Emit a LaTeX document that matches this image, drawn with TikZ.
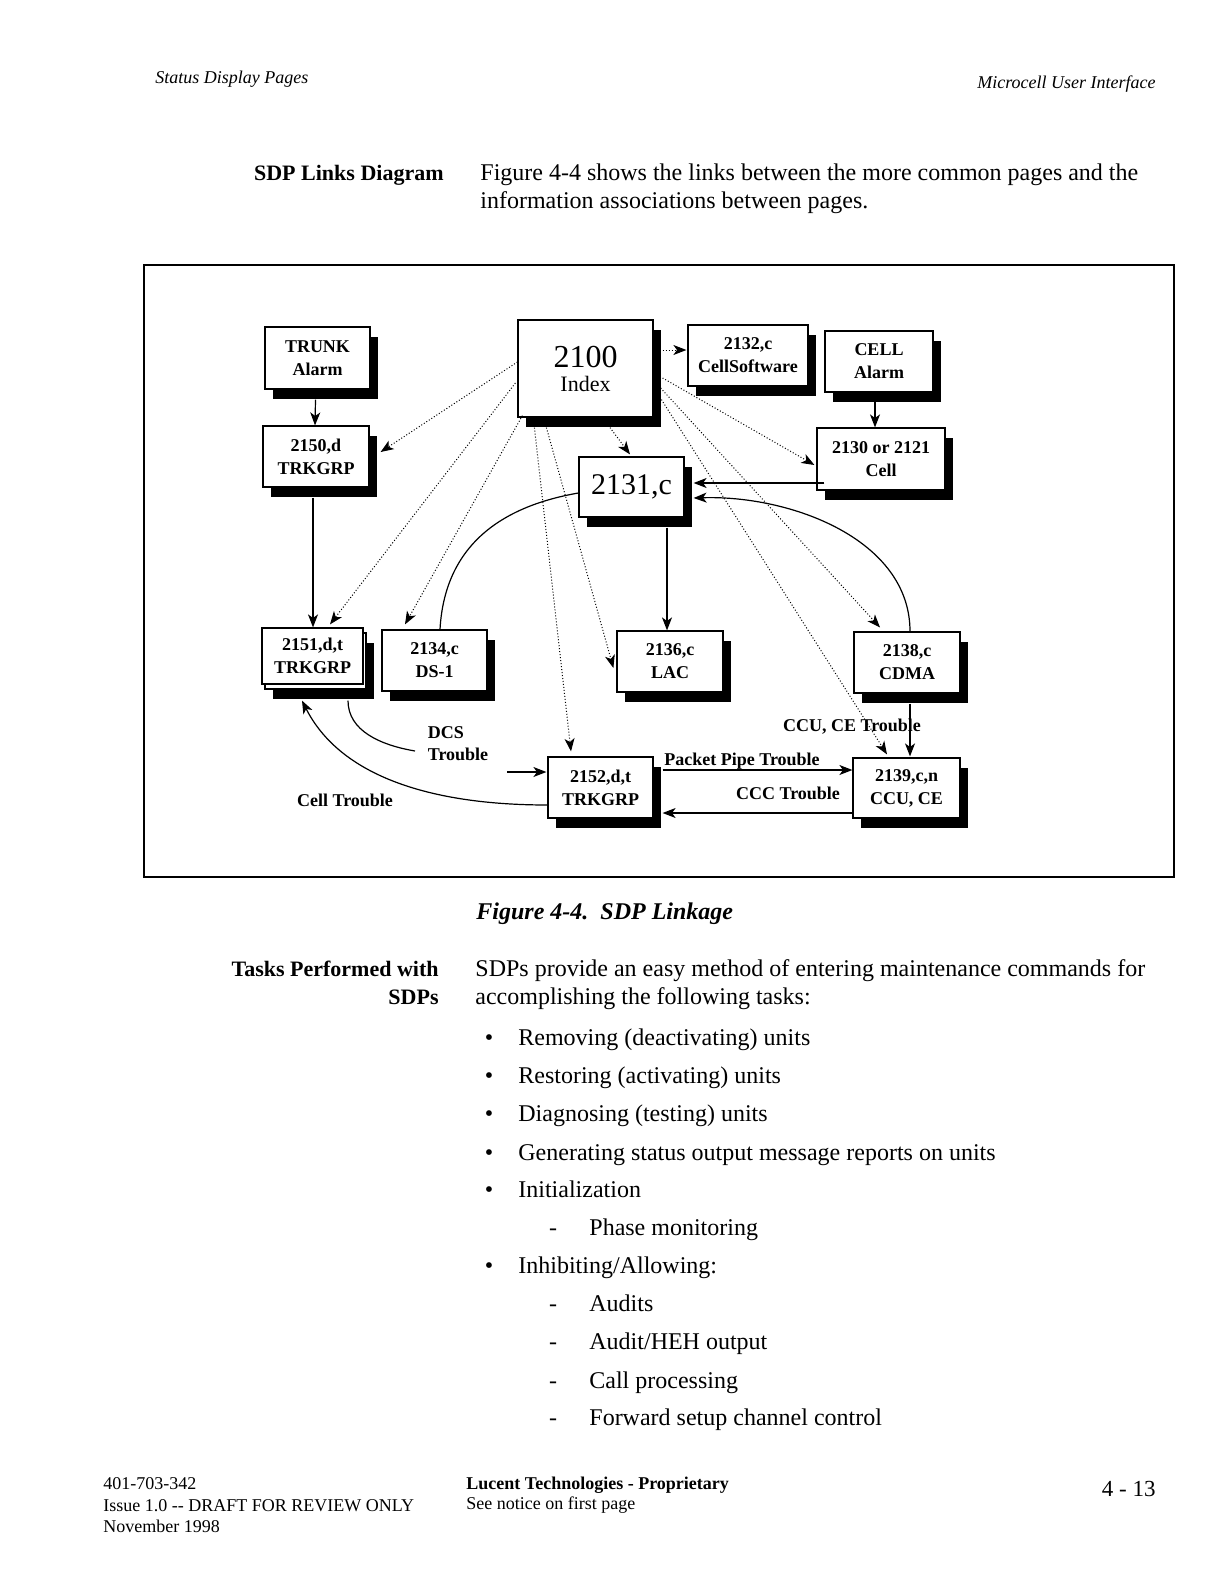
\documentclass[tikz,border=0pt]{standalone}
\usepackage{fontspec}
\setmainfont{Liberation Serif}
\usetikzlibrary{arrows.meta,shadows}
\tikzset{
  bx/.style={draw, fill=white, line width=0.6pt, inner sep=0pt, align=center,
    font=\bfseries\fontsize{9}{11.5}\selectfont,
    drop shadow={shadow xshift=4pt, shadow yshift=-5pt, fill=black, opacity=1}},
  bxplain/.style={draw, fill=white, line width=0.6pt, inner sep=0pt, align=center,
    font=\bfseries\fontsize{9}{11.5}\selectfont},
  arr/.style={line width=0.6pt, -{Stealth[length=6.5pt,width=5pt,inset=1.8pt]}},
  dotarr/.style={line width=0.5pt, densely dotted, -{Stealth[length=6.5pt,width=5pt,inset=1.8pt]}},
  ln/.style={line width=0.6pt},
  lbl/.style={font=\bfseries\fontsize{9}{11}\selectfont, inner sep=0pt, align=left},
  body/.style={font=\fontsize{12}{14}\selectfont, inner sep=0pt},
  side/.style={font=\bfseries\fontsize{11}{14}\selectfont, inner sep=0pt, anchor=base east},
  foot/.style={font=\fontsize{9}{11}\selectfont, inner sep=0pt, anchor=base west},
}
\begin{document}
\begin{tikzpicture}[x=0.5pt,y=-0.5pt]
\fill[white] (0,0) rectangle (1224,1584);
\path[use as bounding box] (0,0) rectangle (1224,1584);

% header
\node[anchor=base west, inner sep=0pt, font=\itshape\fontsize{9}{11}\selectfont] (hl) at (155,84) {Status Display Pages};
\node[anchor=base east, inner sep=0pt, font=\itshape\fontsize{9}{11}\selectfont] (hr) at (1156,89) {Microcell User Interface};

% intro
\node[side] (s1) at (444,180) {SDP Links Diagram};
\node[body, anchor=base west] (p1a) at (480,180) {Figure 4-4 shows the links between the more common pages and the};
\node[body, anchor=base west] (p1b) at (480,208) {information associations between pages.};

% frame
\draw[line width=0.7pt] (144,265) rectangle (1174,877);

% boxes
\node[bx, minimum width=52.5pt, minimum height=31pt] (trunk) at (317.5,358) {TRUNK\\Alarm};
\node[bx, minimum width=53pt, minimum height=30.5pt] (t2150) at (316,456.5) {2150,d\\TRKGRP};
\node[bx, minimum width=67.5pt, minimum height=48.5pt, font=\fontsize{11}{13}\selectfont] (n2100) at (585.5,368.5) {{\fontsize{16}{16}\selectfont 2100}\\[-1pt]Index};
\node[bx, minimum width=60pt, minimum height=30.5pt] (c2132) at (748,355.5) {2132,c\\CellSoftware};
\node[bx, minimum width=54pt, minimum height=30.5pt] (cell) at (879,361.5) {CELL\\Alarm};
\node[bx, minimum width=64pt, minimum height=31pt] (c2130) at (881,459) {2130 or 2121\\Cell};
\node[bx, minimum width=52.5pt, minimum height=30pt, font=\fontsize{15}{15}\selectfont] (c2131) at (631.5,487) {2131,c};
\node[bx, minimum width=50.5pt, minimum height=28pt] (t2151b) at (315.5,661) {};
\node[bxplain, minimum width=50.5pt, minimum height=28pt] (t2151) at (312.5,656) {2151,d,t\\TRKGRP};
\node[bx, minimum width=52.5pt, minimum height=30.5pt] (ds1) at (434.5,660.5) {2134,c\\DS-1};
\node[bx, minimum width=53pt, minimum height=30.5pt] (lac) at (670,661.5) {2136,c\\LAC};
\node[bx, minimum width=53pt, minimum height=30.5pt] (cdma) at (907,662.5) {2138,c\\CDMA};
\node[bx, minimum width=52.5pt, minimum height=30.5pt] (t2152) at (600.5,787.5) {2152,d,t\\TRKGRP};
\node[bx, minimum width=53.5pt, minimum height=30pt] (ccu) at (906.5,788) {2139,c,n\\CCU, CE};

% solid connectors
\draw[arr] ([shift={(-2,10)}]trunk.south) -- ([shift={(-1,0)}]t2150.north);
\draw[arr] ([shift={(-3,10)}]t2150.south) -- ([shift={(0.5,0)}]t2151.north);
\draw[arr] ([shift={(-4,9)}]cell.south) -- ([shift={(-6,0)}]c2130.north);
\draw[arr] ([shift={(8,24)}]c2130.west) -- ([shift={(9,-4)}]c2131.east);
\draw[arr] ([shift={(3,0)}]cdma.north) .. controls +(0,-92) and +(97,-3) .. ([shift={(9,11)}]c2131.east);
\draw[arr] ([shift={(3,10)}]cdma.south) -- ([shift={(3.5,-1)}]ccu.north);
\draw[arr] ([shift={(35.5,10)}]c2131.south) -- ([shift={(-3,0)}]lac.north);
\draw[ln] ([shift={(5.5,0)}]ds1.north) .. controls +(5,-90) and +(-69,12) .. ([shift={(0,6)}]c2131.west);
\coordinate (dcsend) at (415,751);
\coordinate (dcsin) at (507,772);
\draw[ln] ([shift={(35.5,16)}]t2151.south) .. controls +(0,30) and +(-35,-6) .. (dcsend);
\draw[arr] (dcsin) -- ([shift={(-1,-15.5)}]t2152.west);
\draw[arr] ([shift={(0,17.5)}]t2152.west) .. controls +(-118,0) and +(38,75) .. ([shift={(-10.5,16)}]t2151.south);
\draw[arr] ([shift={(9,-17.5)}]t2152.east) -- ([shift={(0,-18)}]ccu.west);
\draw[arr] ([shift={(0,25)}]ccu.west) -- ([shift={(9,25.5)}]t2152.east);

% dotted connectors from 2100
\draw[dotarr] ([shift={(9,-18.5)}]n2100.east) -- ([shift={(-1,-5.5)}]c2132.west);
\draw[dotarr] ([shift={(0,-6.5)}]n2100.west) -- ([shift={(11,-4.5)}]t2150.east);
\draw[dotarr] ([shift={(-2,14.5)}]n2100.west) -- ([shift={(17.5,-3)}]t2151.north);
\draw[dotarr] ([shift={(5,-2)}]n2100.south west) -- ([shift={(-29.5,-5)}]ds1.north);
\draw[dotarr] ([shift={(17,10)}]n2100.south west) -- ([shift={(-29.5,-5)}]t2152.north);
\draw[dotarr] ([shift={(29,10)}]n2100.south west) -- ([shift={(-3,6.5)}]lac.west);
\draw[dotarr] ([shift={(24.5,10)}]n2100.south) -- ([shift={(-1.5,-2)}]c2131.north);
\draw[dotarr] ([shift={(9,9.5)}]n2100.east) -- ([shift={(-2,6)}]c2130.west);
\draw[dotarr] ([shift={(7,19.5)}]n2100.east) -- ([shift={(-27,-4)}]cdma.north);
\draw[dotarr] ([shift={(3,23.5)}]n2100.east) -- ([shift={(-19.5,-3)}]ccu.north);

% edge labels
\node[lbl] (ldcs) at (458,744) {DCS\\Trouble};
\node[lbl] (lcell) at (345,800) {Cell Trouble};
\node[lbl] (lpp) at (742,761) {Packet Pipe Trouble};
\node[lbl] (lccc) at (788,793) {CCC Trouble};
\node[lbl] (lccu) at (852,727) {CCU, CE Trouble};

% caption
\node[anchor=base west, inner sep=0pt, font=\bfseries\itshape\fontsize{12}{14}\selectfont] (cap) at (476,919) {Figure 4-4.\ \ SDP Linkage};

% tasks
\node[side] (s2a) at (439,976) {Tasks Performed with};
\node[side] (s2b) at (439,1004) {SDPs};
\node[body, anchor=base west] (p2a) at (475,976) {SDPs provide an easy method of entering maintenance commands for};
\node[body, anchor=base west] (p2b) at (475,1004) {accomplishing the following tasks:};

\node[body, anchor=base] (b1) at (489,1045) {\textbullet};
\node[body, anchor=base west] (bt1) at (518,1045) {Removing (deactivating) units};
\node[body, anchor=base] (b2) at (489,1083) {\textbullet};
\node[body, anchor=base west] (bt2) at (518,1083) {Restoring (activating) units};
\node[body, anchor=base] (b3) at (489,1121) {\textbullet};
\node[body, anchor=base west] (bt3) at (518,1121) {Diagnosing (testing) units};
\node[body, anchor=base] (b4) at (489,1160) {\textbullet};
\node[body, anchor=base west] (bt4) at (518,1160) {Generating status output message reports on units};
\node[body, anchor=base] (b5) at (489,1197) {\textbullet};
\node[body, anchor=base west] (bt5) at (518,1197) {Initialization};
\node[body, anchor=base] (d1) at (553,1235) {-};
\node[body, anchor=base west] (dt1) at (589,1235) {Phase monitoring};
\node[body, anchor=base] (b6) at (489,1273) {\textbullet};
\node[body, anchor=base west] (bt6) at (518,1273) {Inhibiting/Allowing:};
\node[body, anchor=base] (d2) at (553,1311) {-};
\node[body, anchor=base west] (dt2) at (589,1311) {Audits};
\node[body, anchor=base] (d3) at (553,1349) {-};
\node[body, anchor=base west] (dt3) at (589,1349) {Audit/HEH output};
\node[body, anchor=base] (d4) at (553,1388) {-};
\node[body, anchor=base west] (dt4) at (589,1388) {Call processing};
\node[body, anchor=base] (d5) at (553,1425) {-};
\node[body, anchor=base west] (dt5) at (589,1425) {Forward setup channel control};

% footer
\node[foot] (f1) at (103,1489) {401-703-342};
\node[foot] (f2) at (103,1511) {Issue 1.0 -{}- DRAFT FOR REVIEW ONLY};
\node[foot] (f3) at (103,1532) {November 1998};
\node[foot, font=\bfseries\fontsize{9}{11}\selectfont] (f4) at (466,1489) {Lucent Technologies - Proprietary};
\node[foot] (f5) at (466,1509) {See notice on first page};
\node[anchor=base east, inner sep=0pt, font=\fontsize{11.5}{13}\selectfont] (f6) at (1156,1496) {4 - 13};
\end{tikzpicture}
\end{document}
